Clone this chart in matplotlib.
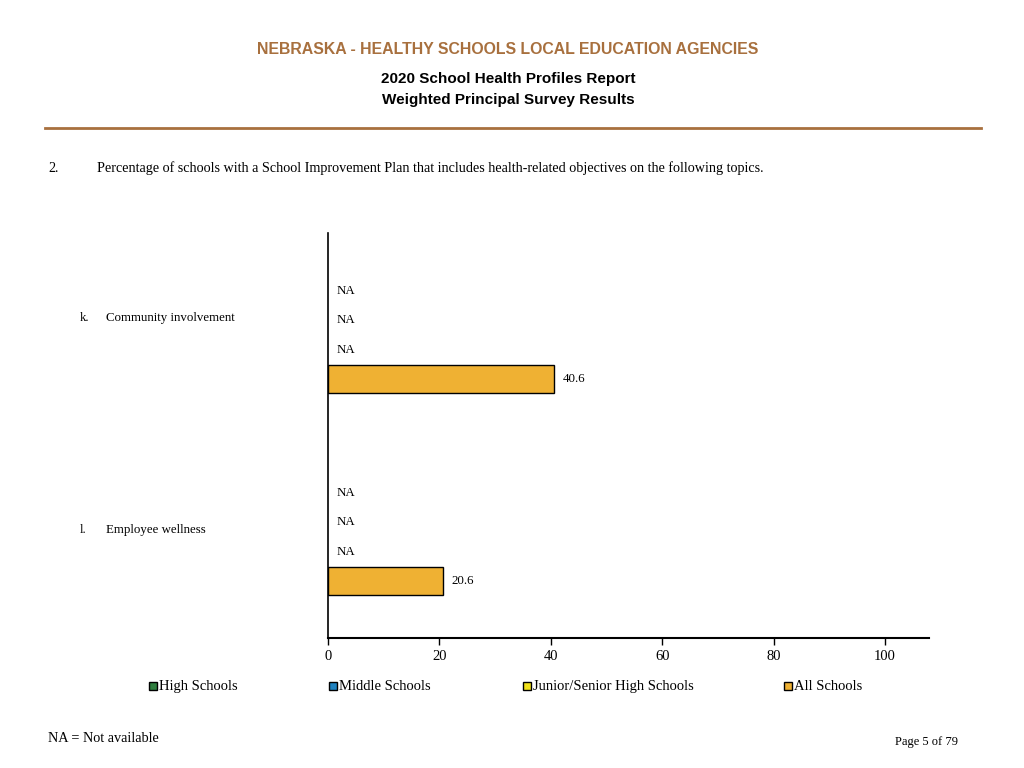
import matplotlib
matplotlib.use("Agg")
import matplotlib.pyplot as plt
from matplotlib.patches import Rectangle
import numpy as np

# Data
categories = ["Community involvement", "Employee wellness"]
category_letters = ["k.", "l."]
series_names = ["High Schools", "Middle Schools", "Junior/Senior High Schools", "All Schools"]
high_schools = [None, None]
middle_schools = [None, None]
junior_senior = [None, None]
all_schools = [40.6, 20.6]
x_ticks = [0, 20, 40, 60, 80, 100]

colors = ["#2E7D3E", "#1F82C0", "#F2E21A", "#EFB133"]
serif = ["Liberation Serif", "DejaVu Serif"]
sans = ["Liberation Sans", "DejaVu Sans"]

fig = plt.figure(figsize=(10.24, 7.68), dpi=100)
W, H = 1024, 768

def fx(px):
    return px / W

def fy(py):
    return 1 - py / H

# Header
fig.text(fx(508), fy(50), "NEBRASKA - HEALTHY SCHOOLS LOCAL EDUCATION AGENCIES",
         ha="center", va="center", fontsize=11.4, fontweight="bold", color="#A8703E", family=sans)
fig.text(fx(508), fy(79), "2020 School Health Profiles Report",
         ha="center", va="center", fontsize=11, fontweight="bold", color="black", family=sans)
fig.text(fx(508), fy(100), "Weighted Principal Survey Results",
         ha="center", va="center", fontsize=11, fontweight="bold", color="black", family=sans)
fig.add_artist(plt.Line2D([fx(45), fx(981)], [fy(128), fy(128)], color="#A8703E", lw=2))

fig.text(fx(48), fy(168), "2.", ha="left", va="center", fontsize=10.2, family=serif)
fig.text(fx(97), fy(168),
         "Percentage of schools with a School Improvement Plan that includes health-related objectives on the following topics.",
         ha="left", va="center", fontsize=10.2, family=serif)

# Axes
ax_left, ax_right, ax_top, ax_bottom = 328, 929, 233, 638
ax = fig.add_axes([fx(ax_left), fy(ax_bottom), (ax_right - ax_left) / W, (ax_bottom - ax_top) / H])

bar_h = 0.146
offsets = np.array([-1.5, -0.5, 0.5, 1.5]) * bar_h
series = [high_schools, middle_schools, junior_senior, all_schools]
group_pos = np.arange(len(categories))

for si, (vals, col) in enumerate(zip(series, colors)):
    for gi, v in enumerate(vals):
        y = group_pos[gi] + offsets[si]
        if v is None:
            ax.text(1.6, y, "NA", ha="left", va="center", fontsize=9.3, family=serif)
        else:
            ax.barh(y, v, height=0.14, color=col, edgecolor="black", linewidth=1)
            ax.text(v + 1.5, y, f"{v:.1f}", ha="left", va="center", fontsize=9.3, family=serif)

ax.set_xlim(0, 107.9)
ax.set_ylim(1.5, -0.505)
ax.set_xticks(x_ticks)
ax.set_xticklabels([str(t) for t in x_ticks], family=serif, fontsize=10.5)
ax.set_yticks([])
for s in ["top", "right"]:
    ax.spines[s].set_visible(False)
ax.spines["left"].set_linewidth(1.2)
ax.spines["bottom"].set_linewidth(1.5)
ax.tick_params(axis="x", length=5, width=1, pad=4)

# Category labels
label_y = [318, 530]
for letter, cat, py in zip(category_letters, categories, label_y):
    fig.text(fx(80), fy(py), letter, ha="left", va="center", fontsize=9.3, family=serif)
    fig.text(fx(106), fy(py), cat, ha="left", va="center", fontsize=9.3, family=serif)

# Legend (manual, baseline aligned)
legend_x = [149, 329, 523, 784]
for name, col, lx in zip(series_names, colors, legend_x):
    fig.add_artist(Rectangle((fx(lx), fy(690)), 8 / W, 8 / H, facecolor=col,
                             edgecolor="black", linewidth=1, transform=fig.transFigure))
    fig.text(fx(lx + 10), fy(690), name, ha="left", va="baseline", fontsize=10.5, family=serif)

fig.text(fx(48), fy(738), "NA = Not available", ha="left", va="center", fontsize=10.3, family=serif)
fig.text(fx(958), fy(742), "Page 5 of 79", ha="right", va="center", fontsize=9, family=serif)

fig.savefig("out.png", dpi=100)
